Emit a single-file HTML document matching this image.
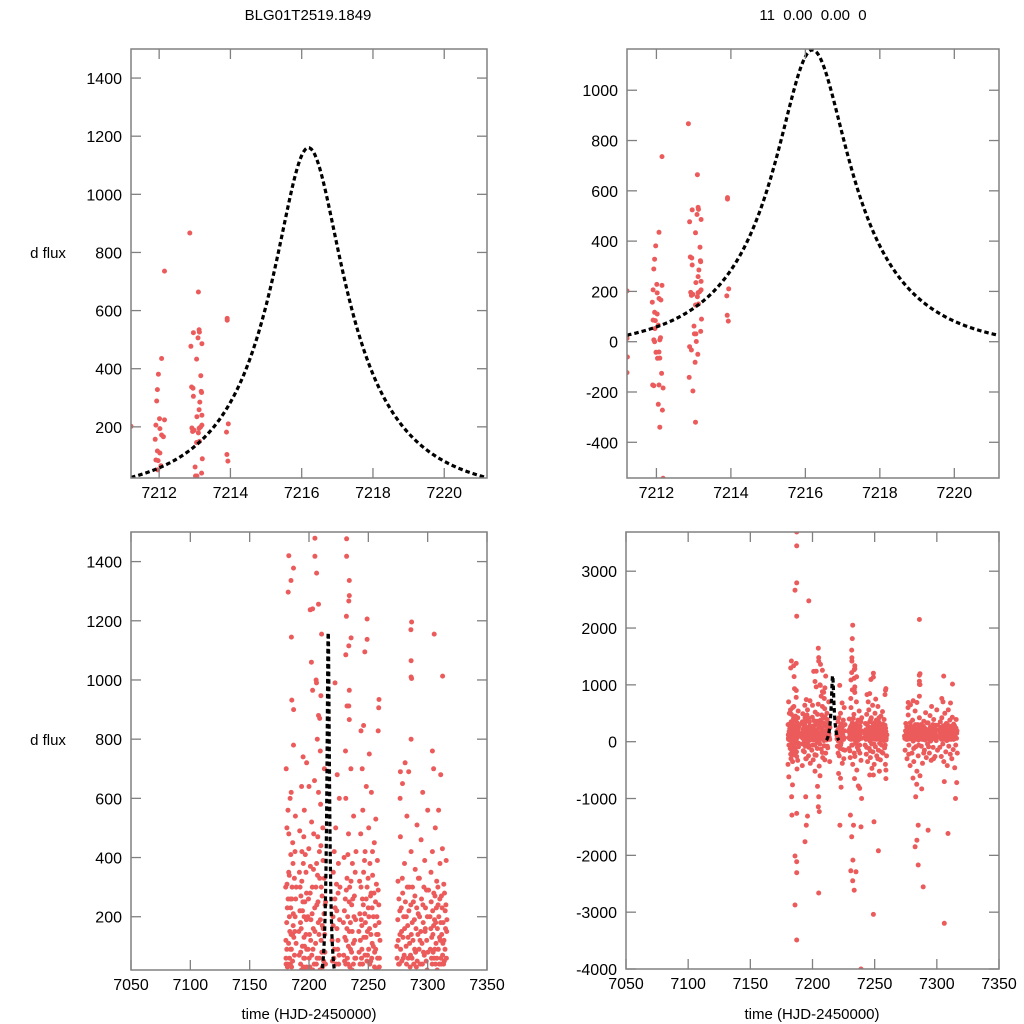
<!DOCTYPE html>
<html><head><meta charset="utf-8"><style>
html,body{margin:0;padding:0;background:#fff;width:1024px;height:1024px;overflow:hidden;}
svg{display:block;font-family:"Liberation Sans",Arial,sans-serif;}
</style></head><body>
<svg id="chart" width="1024" height="1024" viewBox="0 0 1024 1024" xmlns="http://www.w3.org/2000/svg">
<rect width="1024" height="1024" fill="#fff"/>
<text x="308" y="20" font-size="15" text-anchor="middle">BLG01T2519.1849</text>
<text x="813" y="20" font-size="15" text-anchor="middle" xml:space="preserve">11  0.00  0.00  0</text>
<text x="48" y="258" font-size="15" text-anchor="middle">d flux</text>
<text x="48" y="745" font-size="15" text-anchor="middle">d flux</text>
<text x="309" y="1019" font-size="15" text-anchor="middle">time (HJD-2450000)</text>
<text x="812" y="1019" font-size="15" text-anchor="middle">time (HJD-2450000)</text>
</svg>
<script>
// ---- data: zoomed observations (time, flux) ----
const zoomObs = [[7212.86,867],[7212.15,736],[7213.10,664],[7213.91,573],[7213.91,567],[7213.12,534],[7213.13,526],[7212.96,524],[7213.09,506],[7213.20,486],[7212.89,477],[7212.07,435],[7213.05,433],[7211.98,381],[7213.17,376],[7211.95,328],[7212.91,337],[7212.95,333],[7213.18,322],[7213.19,318],[7212.96,305],[7211.93,289],[7213.14,285],[7213.12,259],[7212.01,228],[7212.15,224],[7213.20,240],[7213.06,235],[7211.91,206],[7213.20,206],[7213.16,199],[7213.94,210],[7213.12,195],[7212.02,194],[7212.92,196],[7212.98,188],[7212.94,184],[7212.07,172],[7212.12,166],[7211.89,157],[7213.89,182],[7213.10,179],[7213.05,146],[7213.13,150],[7211.95,117],[7212.02,110],[7211.91,86],[7211.97,84],[7213.21,90],[7212.05,66],[7213.01,62],[7213.90,105],[7213.93,82],[7213.02,31],[7213.06,31],[7213.19,41],[7211.96,52],[7212.11,16],[7212.09,7],[7211.93,7],[7211.95,0],[7213.07,1],[7211.21,202],[7211.21,13],[7211.22,-61],[7211.21,-123],[7212.89,-20],[7212.94,-33],[7211.99,-42],[7212.07,-41],[7213.11,-50],[7212.03,-66],[7212.09,-65],[7213.04,-82],[7212.14,-126],[7211.90,-172],[7211.93,-175],[7212.07,-172],[7212.18,-184],[7212.88,-142],[7212.98,-196],[7212.05,-249],[7212.16,-272],[7213.05,-320],[7212.09,-340],[7212.18,-543]];

// ---- data: full-season observations, grouped by observing block ----
const seasonA = [[7180.5,120],[7181,-60],[7181.5,310],[7182,40],[7182.5,-220],[7183,480],[7183.5,200],[7184,-350],[7184.5,90],[7185,620],[7185.5,260],[7186,-120],[7186.5,380],[7187,10],[7187.5,-480],[7188,150],[7188.5,540],[7189,-30],[7180.8,700],[7181.7,230],[7182.7,-300],[7183.6,60],[7184.7,410],[7185.6,-200],[7186.7,170],[7187.7,330],[7188.7,-90],[7180.3,-400],[7181.3,90],[7182.3,560],[7183.3,-150],[7184.3,260],[7185.3,30],[7186.3,450],[7187.3,-260],[7188.3,200],[7189.2,300],[7180.9,-620],[7183.9,-760],[7186.9,780],[7184.9,140],[7182.9,350],
[7187.3,3690],[7187.3,3445],[7187.3,2795],[7185.9,2666],[7187.3,2209],[7183,1420],[7186.9,1378],[7184.8,1336],[7182.5,1297],[7185.2,1145],[7185.5,932],[7187,900],[7183.2,-969],[7183.4,-1291],[7187.3,-1262],[7185.9,-2012],[7187.3,-2111],[7187.3,-2305],[7185.9,-2874],[7187.3,-3489]];
const seasonA2 = [[7180.6,60],[7181.2,180],[7181.8,30],[7182.4,260],[7182.8,110],[7183.4,340],[7183.8,150],[7184.2,40],[7184.6,230],[7185.2,90],[7185.8,300],[7186.2,50],[7186.8,210],[7187.2,130],[7187.8,70],[7188.2,420],[7188.8,260],[7189.1,110],[7180.4,300],[7181.4,500],[7182.1,-120],[7183.1,-40],[7184.1,600],[7185.1,-80],[7186.1,140],[7187.1,-180],[7188.1,-330],[7180.7,40],[7184.4,-230],[7186.4,-20]];
const seasonB = [[7191.5,150],[7192,-40],[7192.5,300],[7193,80],[7193.5,-180],[7194,420],[7194.5,220],[7195,-300],[7195.5,60],[7196,560],[7196.5,250],[7197,-100],[7197.5,350],[7198,30],[7191.8,-420],[7192.8,180],[7193.8,640],[7194.8,-20],[7195.8,130],[7196.8,-250],[7197.8,190],[7192.2,490],[7193.2,270],[7194.2,-80],[7195.2,380],[7196.2,100],[7197.2,20],[7198.2,-380],
[7197,2478],[7194.5,-969],[7196,-1309],[7195,-1470],[7194,-1760],[7198,720],[7195,740]];
const seasonB2 = [[7191.7,70],[7192.3,220],[7192.9,40],[7193.4,160],[7193.9,320],[7194.4,100],[7194.9,250],[7195.4,30],[7195.9,200],[7196.4,60],[7196.9,410],[7197.4,140],[7197.9,280],[7198.1,90],[7192.6,-160],[7194.6,-300],[7196.6,-60],[7191.9,350],[7193.6,20],[7195.6,470]];
const seasonC = [[7199,200],[7199.4,-150],[7199.8,430],[7200.2,60],[7200.6,-320],[7201,280],[7201.4,120],[7201.8,-60],[7202.2,520],[7202.6,210],[7203,-240],[7203.4,90],[7203.8,360],[7204.2,-10],[7204.6,660],[7205,150],[7205.4,-430],[7205.8,300],[7206.2,40],[7206.6,240],[7207,-130],[7207.4,470],[7207.8,180],[7208.2,-280],[7208.6,60],[7209,330],[7209.4,-70],[7209.8,580],[7210.2,120],[7210.6,-200],[7211,270],[7211.4,30],[7211.8,390],[7212.2,-110],[7212.6,210],[7213,700],[7213.4,80],[7213.8,-350],[7214,250],[7200,640],[7202,-520],[7204,480],[7206,-600],[7208,620],[7210,440],[7212,160],[7203.2,20],[7207.2,340],
[7204.7,1646],[7205,1479],[7205,1418],[7206.4,1361],[7201,1237],[7203,1240],[7208,1256],[7210.6,1155],[7202,1060],[7206,1000],[7206.3,990],[7210,947],[7208,880],[7209,870],[7203,965],[7207,800],[7209.5,760],[7205,-2663],[7205,-969],[7204.7,-1145],[7205.5,-1230],[7204,-786]];
const seasonC2 = [[7199.2,90],[7199.6,260],[7200.4,140],[7200.8,30],[7201.2,370],[7201.6,190],[7202.4,70],[7202.8,300],[7203.6,160],[7204.4,40],[7204.8,230],[7205.6,110],[7206.4,380],[7206.8,60],[7207.6,250],[7208.4,140],[7208.8,420],[7209.2,20],[7209.6,190],[7210.4,300],[7210.8,80],[7211.2,170],[7211.6,500],[7212.4,50],[7212.8,330],[7213.2,140],[7213.6,240],[7199.9,-60],[7201.9,-230],[7203.9,-120],[7205.9,-40],[7207.9,-190],[7209.9,-320],[7211.9,-80],[7213.9,40]];
const seasonD = [[7219.5,120],[7220,-80],[7220.5,350],[7221,60],[7221.5,-250],[7222,230],[7222.5,500],[7223,-20],[7223.5,160],[7224,-380],[7224.5,280],[7225,40],[7225.5,600],[7226,-150],[7220.2,200],[7221.2,420],[7222.2,-120],[7223.2,310],[7224.2,90],[7225.2,-300],[7220.8,10],[7223.8,680],
[7221.9,990],[7222,-1470],[7222.5,-645],[7223,-800],[7221,-560]];
const seasonD2 = [[7219.7,50],[7220.4,170],[7221.4,90],[7221.8,260],[7222.8,40],[7223.4,220],[7224.4,120],[7224.8,380],[7225.4,70],[7225.8,190],[7220.6,-200],[7222.6,-60],[7224.6,-140],[7226.1,300]];
const seasonE = [[7229,180],[7229.3,-120],[7229.6,400],[7230,50],[7230.3,-280],[7230.6,260],[7231,600],[7231.3,120],[7231.6,-60],[7232,330],[7232.3,-400],[7232.6,200],[7233,40],[7233.3,480],[7233.6,-200],[7234,150],[7234.3,300],[7234.6,-30],[7235,90],[7235.3,700],[7235.6,-500],[7236,240],[7236.3,20],[7236.6,380],[7237,-150],[7237.3,110],[7237.6,540],[7238,-60],[7238.3,270],[7238.6,60],[7239,-330],[7239.3,190],[7239.6,420],[7230.8,760],[7233.8,-650],[7236.8,-780],
[7232.3,2050],[7232,1815],[7231.5,1611],[7231.7,1477],[7231.7,1418],[7234,1336],[7234,1285],[7233.5,1267],[7231.5,1215],[7235.5,1142],[7233.5,1115],[7231,1085],[7234,965],[7232,912],[7233.5,912],[7234,866],[7230.5,-1291],[7233,-1470],[7231.5,-1674],[7232.5,-2084],[7230.8,-2272],[7235,-2290],[7232.3,-2448],[7233.5,-2613],[7239,-4000],[7239,-1500],[7238,-820],[7239.5,-1000]];
const seasonE2 = [[7229.2,70],[7229.8,220],[7230.2,130],[7230.9,40],[7231.4,290],[7231.9,160],[7232.4,60],[7232.8,410],[7233.2,100],[7233.9,250],[7234.4,30],[7234.9,180],[7235.4,320],[7235.9,80],[7236.4,150],[7236.9,260],[7237.4,40],[7237.9,200],[7238.4,120],[7238.9,350],[7239.4,60],[7230.1,-160],[7232.1,-60],[7234.1,-260],[7236.1,-100],[7238.1,-200]];
const seasonF = [[7242,150],[7242.3,-60],[7242.6,320],[7243,40],[7243.3,-220],[7243.6,480],[7244,190],[7244.3,-350],[7244.6,90],[7245,260],[7245.3,560],[7245.6,-120],[7246,350],[7246.3,10],[7246.6,-280],[7247,210],[7247.3,420],[7247.6,-40],[7248,130],[7248.3,640],[7248.6,-180],[7249,300],[7249.3,70],[7249.6,-400],[7250,230],[7250.3,500],[7250.6,-90],[7251,160],[7251.3,380],[7251.6,-250],[7252,50],[7252.3,280],[7252.6,620],[7253,-150],[7253.3,110],[7253.6,340],[7254,-30],[7254.3,200],[7254.6,-320],[7255,450],[7255.3,80],[7255.6,-60],[7256,250],[7256.3,530],[7256.6,-200],[7257,140],[7257.3,20],[7257.6,390],[7258,-110],[7258.3,290],[7258.6,-400],[7259,180],[7259.3,60],[7259.6,-250],[7244.8,700],[7250.8,750],[7247.8,-470],[7253.8,-520],
[7249,1206],[7243.8,828],[7247,1095],[7249,1137],[7246,846],[7258.7,906],[7259,934],[7258.3,828],[7249.5,-1409],[7253,-1920],[7249,-3040],[7246,-586],[7249,-586],[7259,-500],[7259,-650]];
const seasonF2 = [[7242.2,80],[7242.8,210],[7243.2,120],[7243.8,300],[7244.2,60],[7244.5,170],[7245.2,40],[7245.8,240],[7246.2,130],[7246.8,390],[7247.2,70],[7247.5,180],[7248.2,260],[7248.8,50],[7249.2,150],[7249.8,330],[7250.2,90],[7250.5,200],[7251.2,40],[7251.8,270],[7252.2,140],[7252.8,60],[7253.2,230],[7253.5,420],[7254.2,100],[7254.8,280],[7255.2,30],[7255.8,170],[7256.2,90],[7256.8,310],[7257.2,200],[7257.8,60],[7258.2,140],[7258.8,240],[7259.2,30],[7259.8,120],[7243.5,-100],[7246.5,-160],[7249.5,-40],[7252.5,-300],[7255.5,-180],[7258.5,-60]];
const seasonG = [[7274,100],[7274.5,-150],[7275,320],[7275.5,40],[7276,-300],[7276.5,220],[7277,470],[7277.5,-60],[7278,150],[7278.5,-420],[7279,280],[7279.5,60],[7280,-200],[7280.5,380],[7281,10],[7281.5,-350],[7282,200],[7282.5,540],[7283,-90],[7283.5,130],[7284,-520],[7284.5,300],[7285,-250],[7285.5,70],[7286,420],[7286.5,-600],[7287,180],[7287.5,-80],[7288,250],[7288.5,-380],[7289,90],[7289.5,360],[7290,-150],[7290.5,30],[7291,510],[7291.5,-280],[7292,210],[7292.5,-40],[7293,330],[7293.5,120],[7294,-200],[7294.5,460],[7295,10],[7295.5,-330],[7296,240],[7296.5,80],[7297,-100],[7297.5,390],[7298,160],[7298.5,-260],[7299,290],[7299.5,20],[7300,560],[7300.5,-150],[7276.8,600],[7283.8,-750],[7287.8,-830],[7280.8,-640],[7278.8,650],[7295.8,620],
[7286,2150],[7285.9,1170],[7286.5,1196],[7286,1065],[7286,1010],[7286.5,1005],[7286,800],[7284,690],[7277,690],[7281,720],[7283,-969],[7285,-1470],[7293,-1557],[7284,-1733],[7282.5,-1850],[7285,-2170],[7289,-2555]];
const seasonG2 = [[7274.2,60],[7274.8,190],[7275.2,120],[7275.8,260],[7276.2,40],[7276.6,140],[7277.2,90],[7277.8,230],[7278.2,50],[7278.6,330],[7279.2,130],[7279.8,200],[7280.2,70],[7280.6,160],[7281.2,250],[7281.8,100],[7282.2,40],[7282.8,300],[7283.2,170],[7283.6,60],[7284.2,220],[7284.8,110],[7285.2,30],[7285.8,240],[7286.2,140],[7286.8,60],[7287.2,300],[7287.6,120],[7288.2,40],[7288.8,190],[7289.2,270],[7289.8,80],[7290.2,160],[7290.8,230],[7291.2,50],[7291.8,140],[7292.2,330],[7292.8,90],[7293.2,200],[7293.8,40],[7294.2,150],[7294.8,260],[7295.2,110],[7295.6,40],[7296.2,180],[7296.8,300],[7297.2,70],[7297.8,150],[7298.2,230],[7298.8,50],[7299.2,120],[7299.8,200],[7300.2,80],[7300.8,290],[7277.4,-220],[7281.4,-120],[7285.4,-60],[7289.4,-200],[7293.4,-90],[7297.4,-300]];
const seasonH = [[7302,200],[7302.4,-100],[7302.8,350],[7303.2,60],[7303.6,-260],[7304,420],[7304.4,140],[7304.8,-40],[7305.2,280],[7305.6,-350],[7306,90],[7306.4,500],[7306.8,180],[7307.2,-180],[7307.6,320],[7308,20],[7308.4,-420],[7308.8,240],[7309.2,560],[7309.6,-80],[7310,130],[7310.4,380],[7310.8,-220],[7311.2,60],[7311.6,270],[7312,-300],[7312.4,430],[7312.8,110],[7313.2,-140],[7313.6,310],[7314,50],[7314.4,-460],[7314.8,220],[7315.2,-60],[7315.6,390],[7316,150],[7316.5,-200],
[7305.5,1155],[7312.6,1013],[7304,760],[7305,700],[7311,680],[7306,-703],[7316,-720],[7315,-1000],[7309,-1615],[7306,-3196]];
const seasonH2 = [[7302.2,90],[7302.6,160],[7303,250],[7303.4,130],[7303.8,40],[7304.2,220],[7304.6,80],[7305,170],[7305.4,60],[7305.8,190],[7306.2,270],[7306.6,40],[7307,110],[7307.4,230],[7307.8,60],[7308.2,160],[7308.6,300],[7309,90],[7309.4,200],[7309.8,40],[7310.2,260],[7310.6,120],[7311,180],[7311.4,40],[7311.8,140],[7312.2,230],[7312.6,70],[7313,180],[7313.4,40],[7313.8,120],[7314.2,280],[7314.6,90],[7315,160],[7315.4,240],[7315.8,60],[7316.2,190]];

// ---- model parameters (microlensing fit) ----
const modelT0 = 7216.19, modelU0 = 0.3, modelTE = 3.4, modelF = 491, modelC = -40;

// ---- axis ticks ----
const zoomXTicks = [7212, 7214, 7216, 7218, 7220];
const fullXTicks = [7050, 7100, 7150, 7200, 7250, 7300, 7350];
const yTicksTL = [200, 400, 600, 800, 1000, 1200, 1400];
const yTicksTR = [-400, -200, 0, 200, 400, 600, 800, 1000];
const yTicksBL = [200, 400, 600, 800, 1000, 1200, 1400];
const yTicksBR = [-4000, -3000, -2000, -1000, 0, 1000, 2000, 3000];

const NS = "http://www.w3.org/2000/svg";
const svg = document.getElementById("chart");
const fullObs = [].concat(seasonA, seasonA2, seasonB, seasonB2, seasonC, seasonC2, seasonD, seasonD2, seasonE, seasonE2, seasonF, seasonF2, seasonG, seasonG2, seasonH, seasonH2);

function model(t) {
  const tau = (t - modelT0) / modelTE;
  const u = Math.sqrt(modelU0 * modelU0 + tau * tau);
  const A = (u * u + 2) / (u * Math.sqrt(u * u + 4));
  return modelF * (A - 1) + modelC;
}
function mk(tag, attrs, parent) {
  const e = document.createElementNS(NS, tag);
  for (const k in attrs) e.setAttribute(k, attrs[k]);
  (parent || svg).appendChild(e);
  return e;
}

function panel(id, box, xdom, ydom, xticks, yticks, obs, showXLabels) {
  const [x0, y0, x1, y1] = box;
  const sx = v => x0 + (v - xdom[0]) / (xdom[1] - xdom[0]) * (x1 - x0);
  const sy = v => y1 - (v - ydom[0]) / (ydom[1] - ydom[0]) * (y1 - y0);
  const g = mk("g", {});
  
  
  const cp = mk("clipPath", { id: "clip-" + id }, g);
  mk("rect", { x: x0, y: y0, width: x1 - x0, height: y1 - y0 }, cp);
  const pts = mk("g", { "clip-path": "url(#clip-" + id + ")" }, g);
  
  
  obs.forEach(p => {
    const c = mk("circle", { cx: sx(p[0]).toFixed(1), cy: sy(p[1]).toFixed(1), r: 2.5, fill: "#ec5b5b" }, pts);
    
    
  });
  let d = "";
  const ta = 7211.21, tb = 7221.2;
  for (let i = 0; i <= 300; i++) {
    const t = ta + (tb - ta) * i / 300;
    d += (i ? "L" : "M") + sx(t).toFixed(2) + "," + sy(model(t)).toFixed(2);
  }
  const path = mk("path", { d: d, fill: "none", stroke: "#000", "stroke-width": 3.2, "stroke-dasharray": "4.5,3", "clip-path": "url(#clip-" + id + ")" }, g);
  
  
  const fr = mk("rect", { x: x0, y: y0, width: x1 - x0, height: y1 - y0, fill: "none", stroke: "#808080", "stroke-width": 1.5 }, g);
  
  
  xticks.forEach(v => {
    const x = sx(v);
    mk("line", { x1: x, x2: x, y1: y1, y2: y1 - 10, stroke: "#808080", "stroke-width": 1.3 }, g);
    mk("line", { x1: x, x2: x, y1: y0, y2: y0 + 10, stroke: "#808080", "stroke-width": 1.3 }, g);
    if (showXLabels) {
      const t = mk("text", { x: x, y: y1 + 20, "font-size": 16, "text-anchor": "middle" }, g);
      t.textContent = v;
      
      
    }
  });
  yticks.forEach(v => {
    const y = sy(v);
    mk("line", { x1: x0, x2: x0 + 10, y1: y, y2: y, stroke: "#808080", "stroke-width": 1.3 }, g);
    mk("line", { x1: x1, x2: x1 - 10, y1: y, y2: y, stroke: "#808080", "stroke-width": 1.3 }, g);
    const t = mk("text", { x: x0 - 9, y: y + 6, "font-size": 16, "text-anchor": "end" }, g);
    t.textContent = v;
    
    
  });
}

panel("top-left", [131, 49, 487, 478], [7211.21, 7221.2], [24, 1500], zoomXTicks, yTicksTL, zoomObs, true);
panel("top-right", [627, 49, 999, 478], [7211.21, 7221.2], [-542, 1164], zoomXTicks, yTicksTR, zoomObs, true);
panel("bottom-left", [131, 532, 487, 970], [7050, 7350], [20, 1500], fullXTicks, yTicksBL, fullObs, true);
panel("bottom-right", [626, 532, 999, 969], [7050, 7350], [-4000, 3690], fullXTicks, yTicksBR, fullObs, true);
</script>
</body></html>
